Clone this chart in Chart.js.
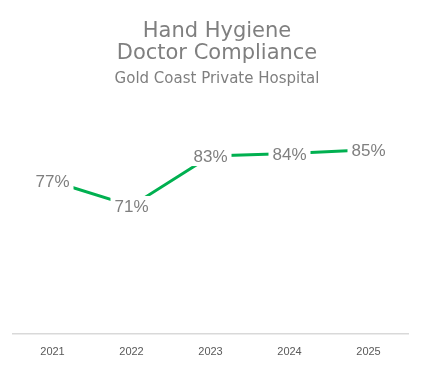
<!DOCTYPE html>
<html>
<head>
<meta charset="utf-8">
<script src="https://cdn.jsdelivr.net/npm/chart.js@4/dist/chart.umd.min.js"></script>
<style>
  html, body { margin: 0; padding: 0; background: #ffffff; }
  #wrap { width: 425px; height: 365px; position: relative; }
</style>
</head>
<body>
<div id="wrap"><canvas id="c" width="425" height="365"></canvas></div>
<script>
const categories = ["2021", "2022", "2023", "2024", "2025"];
const compliance = [77, 71, 83.1, 83.7, 84.6];
const titleLines = ["Hand Hygiene", "Doctor Compliance"];
const subtitleText = "Gold Coast Private Hospital";

const labelPlugin = {
  id: 'pointLabels',
  afterDatasetsDraw(chart) {
    const ctx = chart.ctx;
    const meta = chart.getDatasetMeta(0);
    ctx.save();
    ctx.font = '17px "Liberation Sans", Arial, sans-serif';
    ctx.textAlign = 'center';
    ctx.textBaseline = 'middle';
    meta.data.forEach((pt, i) => {
      const txt = Math.round(compliance[i]) + '%';
      const w = ctx.measureText(txt).width;
      const padX = 4, h = 20;
      ctx.fillStyle = '#ffffff';
      ctx.fillRect(pt.x - w / 2 - padX, pt.y - h / 2, w + padX * 2, h);
      ctx.fillStyle = '#7f7f7f';
      ctx.fillText(txt, pt.x, pt.y + 1.5);
    });
    ctx.restore();
  }
};

// shift the title blocks slightly right, as in the reference
const titleShift = {
  id: 'titleShift',
  afterLayout(chart) {
    chart.boxes.forEach(b => {
      if (b.options && b.options.text !== undefined && b.position === 'top') {
        b.left += 6.5;
        b.right += 6.5;
      }
    });
  }
};

new Chart(document.getElementById('c'), {
  type: 'line',
  data: {
    labels: categories,
    datasets: [{
      data: compliance,
      borderColor: '#00b050',
      borderWidth: 3,
      pointRadius: 0,
      tension: 0,
      fill: false
    }]
  },
  options: {
    responsive: false,
    animation: false,
    layout: { padding: { left: 13, right: 17, top: 0, bottom: -6 } },
    plugins: {
      legend: { display: false },
      tooltip: { enabled: false },
      title: {
        display: true,
        text: titleLines,
        color: '#7f7f7f',
        font: { family: '"DejaVu Sans", sans-serif', size: 21, weight: 'normal', lineHeight: 1.08 },
        padding: { top: 20, bottom: 6 }
      },
      subtitle: {
        display: true,
        text: subtitleText,
        color: '#7f7f7f',
        font: { family: '"DejaVu Sans", sans-serif', size: 15, weight: 'normal', lineHeight: 1.0 },
        padding: { top: 0, bottom: 0 }
      }
    },
    scales: {
      x: {
        offset: true,
        grid: { display: false, drawTicks: false },
        border: { display: true, color: '#d9d9d9', width: 1.5 },
        ticks: { color: '#595959', font: { family: '"Liberation Sans", Arial, sans-serif', size: 11 }, padding: 12 }
      },
      y: {
        display: false,
        min: 40,
        max: 100
      }
    }
  },
  plugins: [labelPlugin, titleShift]
});
</script>
</body>
</html>
